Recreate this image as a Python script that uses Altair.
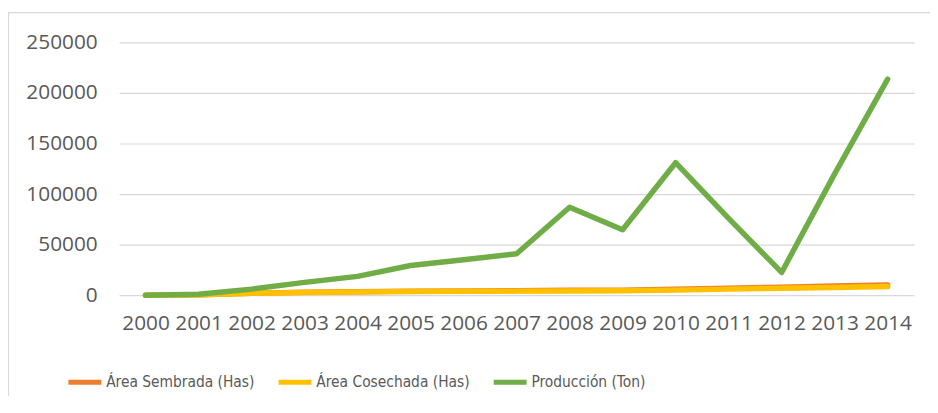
import altair as alt
import pandas as pd

years = [str(y) for y in range(2000, 2015)]
sembrada = [0, 500, 2000, 3000, 3500, 4000, 4200, 4500, 4800, 5000, 5800, 7000, 8000, 9000, 10000]
cosechada = [0, 400, 1800, 2700, 3200, 3600, 3800, 4000, 4200, 4400, 5000, 6000, 6800, 7600, 8500]
produccion = [0, 1000, 6000, 12700, 18600, 29400, 35000, 41000, 87000, 64700, 131000, 76000, 22500, 120000, 213700]

series_names = ["Área Sembrada (Has)", "Área Cosechada (Has)", "Producción (Ton)"]
series_colors = ["#ED7D31", "#FFC000", "#70AD47"]
y_ticks = [0, 50000, 100000, 150000, 200000, 250000]

rows = []
for name, vals in zip(series_names, [sembrada, cosechada, produccion]):
    for yr, v in zip(years, vals):
        rows.append({"year": yr, "value": v, "serie": name})
df = pd.DataFrame(rows)

FONT = "Open Sans"
LFONT = "DejaVu Sans Condensed"
GRAY = "#595959"

x_enc = alt.X("year:O", sort=years, scale=alt.Scale(padding=0.5),
              axis=alt.Axis(title=None, labelAngle=0, ticks=False, domain=False,
                            labelFont=FONT, labelFontSize=21, labelColor=GRAY,
                            labelPadding=18, grid=False))
y_enc = alt.Y("value:Q", scale=alt.Scale(domain=[0, 250000], nice=False),
              axis=alt.Axis(title=None, values=y_ticks, ticks=False, domain=False,
                            labelFont=FONT, labelFontSize=21, labelColor=GRAY,
                            labelPadding=22, format="d", gridColor="#d9d9d9",
                            gridWidth=1.2))
color_enc = alt.Color("serie:N", scale=alt.Scale(domain=series_names, range=series_colors),
                      legend=alt.Legend(title=None, orient="none", direction="horizontal",
                                        legendX=-54, legendY=323,
                                        symbolType="stroke", symbolSize=1100,
                                        symbolStrokeWidth=5, labelFont=LFONT,
                                        labelFontSize=15.5, labelColor=GRAY,
                                        labelLimit=400,
                                        labelOffset=2, columnPadding=13))

layers = []
for name in series_names:
    layers.append(
        alt.Chart(df).transform_filter(alt.datum.serie == name)
        .mark_line(strokeWidth=5.5, strokeCap="round", strokeJoin="round")
        .encode(x=x_enc, y=y_enc, color=color_enc)
    )

border = alt.Chart(pd.DataFrame({"a": [0]})).mark_rect(
    fill=None, stroke="#d9d9d9", strokeWidth=1.2
).encode(x=alt.value(-111.5), x2=alt.value(900), y=alt.value(-30), y2=alt.value(500))

chart = alt.layer(border, *layers).properties(
    width=802, height=255,
    padding={"left": 112, "top": 33, "right": 16, "bottom": 100},
    autosize="none",
).configure_view(stroke=None)

chart.save("out.html", embed_options={"renderer": "svg", "actions": False})
